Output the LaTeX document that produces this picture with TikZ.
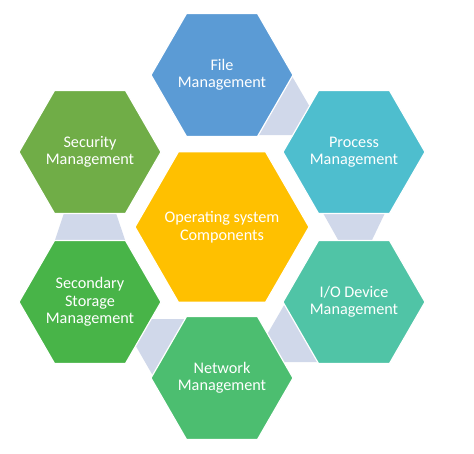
\documentclass[tikz,border=0pt]{standalone}
\usepackage{fontspec}
\setmainfont{Carlito}
\usetikzlibrary{shapes.geometric}
\definecolor{cFile}{RGB}{91,155,213}
\definecolor{cProc}{RGB}{78,190,206}
\definecolor{cIO}{RGB}{80,196,166}
\definecolor{cNet}{RGB}{76,190,112}
\definecolor{cSec}{RGB}{72,180,72}
\definecolor{cSecu}{RGB}{112,173,71}
\definecolor{cCore}{RGB}{255,192,0}
\definecolor{cLink}{RGB}{208,216,234}
\begin{document}
\begin{tikzpicture}[x=1pt,y=-1pt,
  hexa/.style={regular polygon, regular polygon sides=6, minimum size=142pt,
    inner sep=0pt, outer sep=0pt, draw=white, line width=1.2pt},
  core/.style={hexa, minimum size=174pt},
  lbl/.style={inner sep=0pt, text=white, align=center,
    font=\fontsize{16.2}{17.5}\selectfont},
  link/.style={fill=cLink}]
\useasboundingbox (0,0) rectangle (474,453);
\fill[white] (0,0) rectangle (474,453);
% connectors (drawn behind)
\fill[link] (289,71) -- (318,121) -- (300,135) -- (250,135) -- cycle;
\fill[link] (318.5,205) -- (388.8,205) -- (370.1,244) -- (340.4,244) -- cycle;
\fill[link] (291.7,292) -- (300,292) -- (326,362) -- (275,362) -- (261,345) -- cycle;
\fill[link] (126.6,330) -- (140,319) -- (195,319) -- (175,385) -- (158.3,385) -- cycle;
\fill[link] (66.7,205) -- (113.3,205) -- (127.7,248) -- (52.4,248) -- cycle;
% hexagons
\node[core, fill=cCore] (core) at (222,227) {};
\node[hexa, fill=cFile] (file) at (222,75) {};
\node[hexa, fill=cProc] (proc) at (354,152) {};
\node[hexa, fill=cIO] (io) at (354,302) {};
\node[hexa, fill=cNet] (net) at (222,378) {};
\node[hexa, fill=cSec] (sec) at (90,302) {};
\node[hexa, fill=cSecu] (secu) at (90,152) {};
% texts
\node[lbl] (coreT) at (core.center) {Operating system\\Components};
\node[lbl] (fileT) at (file.center) {File\\Management};
\node[lbl] (procT) at (proc.center) {Process\\Management};
\node[lbl] (ioT) at (io.center) {I/O Device\\Management};
\node[lbl] (netT) at (net.center) {Network\\Management};
\node[lbl] (secT) at (sec.center) {Secondary\\Storage\\Management};
\node[lbl] (secuT) at (secu.center) {Security\\Management};
\end{tikzpicture}
\end{document}
